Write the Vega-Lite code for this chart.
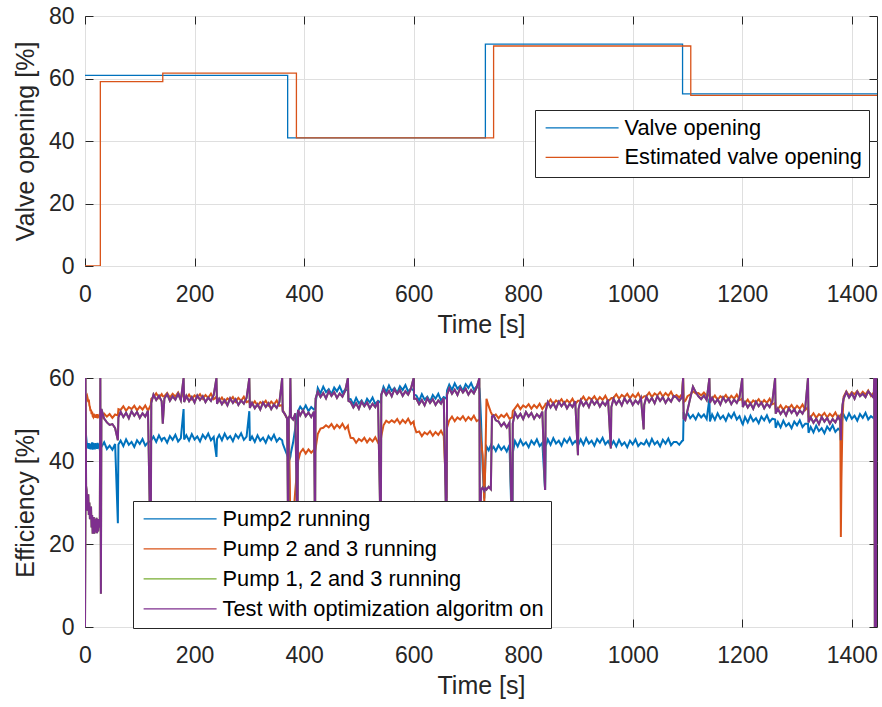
{
  "$schema": "https://vega.github.io/schema/vega-lite/v6.json",
  "background": "white",
  "padding": {"left": 12, "top": 4, "right": 4, "bottom": 4},
  "spacing": 28,
  "resolve": {"scale": {"color": "independent"}, "legend": {"color": "independent"}},
  "config": {
    "font": "Liberation Sans",
    "view": {"stroke": "#262626", "strokeWidth": 1},
    "axis": {
      "labelFont": "Liberation Sans", "labelFontSize": 23, "labelColor": "#262626",
      "titleFont": "Liberation Sans", "titleFontSize": 25, "titleFontWeight": "normal", "titleColor": "#262626",
      "gridColor": "#dfdfdf", "gridOpacity": 1, "gridWidth": 1, "domain": false,
      "tickColor": "#262626", "tickSize": -8, "tickWidth": 1,
      "labelFlush": false, "labelOverlap": false, "format": "d"
    },
    "axisX": {"labelPadding": 25, "titlePadding": 6},
    "axisY": {"labelPadding": 19, "titlePadding": 10},
    "legend": {
      "orient": "none", "title": null, "symbolType": "M-5,0H5", "symbolSize": 213,
      "symbolOffset": 29.2, "labelOffset": 31.5,
      "symbolStrokeWidth": 1.4, "labelFont": "Liberation Sans", "labelFontSize": 21.8,
      "labelColor": "#000000", "strokeColor": "#262626", "fillColor": "white",
      "padding": 7, "rowPadding": 6.5, "labelLimit": 600
    }
  },
  "vconcat": [
    {
      "width": 792, "height": 250,
      "layer": [
        {
          "data": {"values": [
            {"t": 0, "v": 61.0}, {"t": 370, "v": 41.0}, {"t": 731, "v": 71.0}, {"t": 1091, "v": 55.1}, {"t": 1446, "v": 55.1}
          ]},
          "mark": {"type": "line", "interpolate": "step-after", "strokeWidth": 1.3, "clip": true},
          "encoding": {
            "x": {"field": "t", "type": "quantitative", "scale": {"domain": [0, 1446], "nice": false, "zero": false},
                  "axis": {"values": [0, 200, 400, 600, 800, 1000, 1200, 1400], "title": "Time [s]"}},
            "y": {"field": "v", "type": "quantitative", "scale": {"domain": [0, 80], "nice": false},
                  "axis": {"values": [0, 20, 40, 60, 80], "title": "Valve opening [%]"}},
            "color": {"datum": "Valve opening", "type": "nominal",
                      "scale": {"domain": ["Valve opening", "Estimated valve opening"], "range": ["#0072BD", "#D95319"]},
                      "legend": {"legendX": 450, "legendY": 94}}
          }
        },
        {
          "data": {"values": [
            {"t": 0, "v": 0}, {"t": 28, "v": 59.0}, {"t": 142, "v": 61.7}, {"t": 386, "v": 41.0}, {"t": 746, "v": 70.4}, {"t": 1106, "v": 54.6}, {"t": 1446, "v": 54.6}
          ]},
          "mark": {"type": "line", "interpolate": "step-after", "strokeWidth": 1.3, "clip": true},
          "encoding": {
            "x": {"field": "t", "type": "quantitative", "axis": null},
            "y": {"field": "v", "type": "quantitative", "axis": null},
            "color": {"datum": "Estimated valve opening", "type": "nominal"}
          }
        },
        {
          "data": {"values": [{"t": 0, "v": 0}, {"t": 1446, "v": 80}]},
          "mark": {"type": "line", "opacity": 0},
          "encoding": {
            "x": {"field": "t", "type": "quantitative", "scale": {"domain": [0, 1446], "nice": false, "zero": false},
                  "axis": {"orient": "top", "values": [0, 200, 400, 600, 800, 1000, 1200, 1400], "labels": false, "grid": false, "title": null}},
            "y": {"field": "v", "type": "quantitative", "scale": {"domain": [0, 80], "nice": false},
                  "axis": {"orient": "right", "values": [0, 20, 40, 60, 80], "labels": false, "grid": false, "title": null}}
          }
        }
      ],
      "resolve": {"axis": {"x": "independent", "y": "independent"}}
    },
    {
      "width": 792, "height": 249,
      "data": {"values": [
        {"t":0,"b":0,"o":0,"p":0},
        {"t":1,"b":48.5,"o":56.0,"p":60},
        {"t":2,"b":46.0,"o":55.8,"p":34},
        {"t":3,"b":44.6,"o":55.2,"p":33.0},
        {"t":4,"b":43.2,"o":55.6,"p":28.0},
        {"t":5,"b":44.1,"o":55.0,"p":31.5},
        {"t":6,"b":43.0,"o":54.2,"p":32.0},
        {"t":7,"b":44.3,"o":54.8,"p":27.0},
        {"t":8,"b":42.9,"o":53.4,"p":30.0},
        {"t":9,"b":44.0,"o":53.0,"p":26.0},
        {"t":10,"b":42.8,"o":52.0,"p":28.3},
        {"t":11,"b":44.2,"o":52.4,"p":29.0},
        {"t":12,"b":43.1,"o":51.3,"p":24.0},
        {"t":13,"b":44.5,"o":51.9,"p":27.0},
        {"t":14,"b":42.7,"o":50.8,"p":22.5},
        {"t":15,"b":44.4,"o":50.6,"p":25.1},
        {"t":16,"b":43.0,"o":51.4,"p":26.5},
        {"t":17,"b":44.1,"o":50.5,"p":22.5},
        {"t":18,"b":42.8,"o":51.2,"p":26.0},
        {"t":19,"b":44.3,"o":50.4,"p":22.8},
        {"t":20,"b":43.1,"o":51.1,"p":23.4},
        {"t":21,"b":44.0,"o":50.6,"p":26.3},
        {"t":22,"b":42.9,"o":51.3,"p":22.6},
        {"t":23,"b":44.4,"o":50.3,"p":26.0},
        {"t":24,"b":43.0,"o":51.0,"p":23.0},
        {"t":25,"b":43.8,"o":50.5,"p":24.9},
        {"t":26,"b":44.2,"o":51.1,"p":26.0},
        {"t":27,"b":42.6,"o":51.3,"p":24.0},
        {"t":28,"b":44.2,"o":50.8,"p":60},
        {"t":29,"b":43.3,"o":50.6,"p":8},
        {"t":30,"b":43.4,"o":50.2,"p":52.5},
        {"t":35,"b":44.5,"o":51.4,"p":50.2},
        {"t":40,"b":42.9,"o":50.7,"p":49.3},
        {"t":45,"b":43.7,"o":51.3,"p":48.7},
        {"t":50,"b":42.7,"o":50.4,"p":48.9},
        {"t":55,"b":44.1,"o":51.2,"p":47.9},
        {"t":60,"b":25.0,"o":51.0,"p":45.0},
        {"t":61,"b":44.0,"o":52.5,"p":50.5},
        {"t":65,"b":44.9,"o":52.3,"p":51.9},
        {"t":70,"b":43.6,"o":53.2,"p":50.6},
        {"t":75,"b":45.2,"o":52.1,"p":51.6},
        {"t":80,"b":43.9,"o":53.0,"p":50.3},
        {"t":85,"b":44.6,"o":52.5,"p":52.0},
        {"t":90,"b":43.4,"o":53.3,"p":50.9},
        {"t":95,"b":45.0,"o":52.2,"p":51.8},
        {"t":100,"b":44.1,"o":53.1,"p":50.4},
        {"t":105,"b":45.3,"o":52.4,"p":51.5},
        {"t":110,"b":43.7,"o":53.4,"p":50.7},
        {"t":115,"b":44.5,"o":52.1,"p":52.1},
        {"t":120,"b":44.8,"o":53.5,"p":15},
        {"t":121,"b":45.0,"o":55.0,"p":54.0},
        {"t":125,"b":45.9,"o":55.4,"p":56.0},
        {"t":130,"b":44.6,"o":56.3,"p":54.7},
        {"t":135,"b":46.2,"o":55.2,"p":55.7},
        {"t":140,"b":44.9,"o":56.1,"p":54.4},
        {"t":142,"b":45.4,"o":55.6,"p":49.0},
        {"t":145,"b":45.6,"o":55.6,"p":55.1},
        {"t":150,"b":44.4,"o":56.4,"p":56.1},
        {"t":155,"b":46.0,"o":55.3,"p":54.5},
        {"t":160,"b":45.1,"o":56.2,"p":55.6},
        {"t":165,"b":46.3,"o":55.5,"p":54.8},
        {"t":170,"b":44.7,"o":56.5,"p":56.2},
        {"t":175,"b":45.5,"o":55.2,"p":54.6},
        {"t":180,"b":52.5,"o":56.5,"p":60},
        {"t":181,"b":45.2,"o":55.3,"p":54.2},
        {"t":185,"b":46.2,"o":55.1,"p":55.7},
        {"t":190,"b":44.9,"o":56.0,"p":54.4},
        {"t":195,"b":46.5,"o":54.9,"p":55.4},
        {"t":200,"b":45.2,"o":55.8,"p":54.1},
        {"t":205,"b":45.9,"o":55.3,"p":55.8},
        {"t":210,"b":44.7,"o":56.1,"p":54.7},
        {"t":215,"b":46.3,"o":55.0,"p":55.6},
        {"t":220,"b":45.4,"o":55.9,"p":54.2},
        {"t":225,"b":46.6,"o":55.2,"p":55.3},
        {"t":230,"b":45.0,"o":56.2,"p":54.5},
        {"t":235,"b":45.8,"o":54.9,"p":55.9},
        {"t":240,"b":41.0,"o":55.5,"p":60},
        {"t":241,"b":45.3,"o":54.6,"p":53.8},
        {"t":245,"b":46.3,"o":54.4,"p":55.0},
        {"t":250,"b":45.0,"o":55.3,"p":53.7},
        {"t":255,"b":46.6,"o":54.2,"p":54.7},
        {"t":260,"b":45.3,"o":55.1,"p":53.4},
        {"t":265,"b":46.0,"o":54.6,"p":55.1},
        {"t":270,"b":44.8,"o":55.4,"p":54.0},
        {"t":275,"b":46.4,"o":54.3,"p":54.9},
        {"t":280,"b":45.5,"o":55.2,"p":53.5},
        {"t":285,"b":46.7,"o":54.5,"p":54.6},
        {"t":290,"b":45.1,"o":55.5,"p":53.8},
        {"t":295,"b":45.9,"o":54.2,"p":55.2},
        {"t":300,"b":52.0,"o":54.5,"p":60},
        {"t":301,"b":44.9,"o":53.7,"p":52.8},
        {"t":305,"b":45.9,"o":53.5,"p":54.0},
        {"t":310,"b":44.6,"o":54.4,"p":52.7},
        {"t":315,"b":46.2,"o":53.3,"p":53.7},
        {"t":320,"b":44.9,"o":54.2,"p":52.4},
        {"t":325,"b":45.6,"o":53.7,"p":54.1},
        {"t":330,"b":44.4,"o":54.5,"p":53.0},
        {"t":335,"b":46.0,"o":53.4,"p":53.9},
        {"t":340,"b":45.1,"o":54.3,"p":52.5},
        {"t":345,"b":46.3,"o":53.6,"p":53.6},
        {"t":350,"b":44.7,"o":54.6,"p":52.8},
        {"t":355,"b":45.5,"o":53.3,"p":54.2},
        {"t":360,"b":45.0,"o":53.5,"p":60},
        {"t":361,"b":44.2,"o":52.3,"p":52.0},
        {"t":365,"b":42.8,"o":51.2,"p":51.3},
        {"t":369,"b":41.5,"o":50.3,"p":50.2},
        {"t":371,"b":41.9,"o":49.8,"p":20},
        {"t":372,"b":41.2,"o":48.5,"p":50.5},
        {"t":374,"b":40.6,"o":35.0,"p":51.0},
        {"t":375,"b":41.0,"o":20.0,"p":60},
        {"t":376,"b":42.0,"o":22.0,"p":50.6},
        {"t":380,"b":44.5,"o":26.0,"p":50.0},
        {"t":384,"b":48.0,"o":33.0,"p":51.5},
        {"t":388,"b":51.5,"o":39.0,"p":20},
        {"t":389,"b":52.0,"o":40.0,"p":52.3},
        {"t":393,"b":53.1,"o":42.0,"p":51.0},
        {"t":398,"b":52.2,"o":42.9,"p":52.2},
        {"t":403,"b":53.4,"o":41.8,"p":50.8},
        {"t":408,"b":52.0,"o":42.8,"p":51.7},
        {"t":413,"b":53.0,"o":42.0,"p":50.6},
        {"t":418,"b":52.4,"o":42.7,"p":51.9},
        {"t":420,"b":52.5,"o":42.3,"p":20},
        {"t":421,"b":54.0,"o":43.0,"p":55.0},
        {"t":425,"b":57.6,"o":46.5,"p":56.7},
        {"t":430,"b":56.3,"o":47.8,"p":55.4},
        {"t":435,"b":57.9,"o":48.0,"p":56.4},
        {"t":440,"b":56.6,"o":48.6,"p":55.1},
        {"t":445,"b":57.3,"o":48.1,"p":56.8},
        {"t":450,"b":56.1,"o":48.9,"p":55.7},
        {"t":455,"b":57.7,"o":47.8,"p":56.6},
        {"t":460,"b":56.8,"o":48.7,"p":55.2},
        {"t":465,"b":58.0,"o":48.0,"p":56.3},
        {"t":470,"b":56.4,"o":49.0,"p":55.5},
        {"t":475,"b":57.2,"o":47.7,"p":56.9},
        {"t":480,"b":57.0,"o":48.5,"p":60},
        {"t":481,"b":55.0,"o":47.5,"p":54.5},
        {"t":485,"b":54.9,"o":45.6,"p":54.2},
        {"t":490,"b":53.6,"o":45.5,"p":52.9},
        {"t":495,"b":55.2,"o":44.4,"p":53.9},
        {"t":500,"b":53.9,"o":45.3,"p":52.6},
        {"t":505,"b":54.6,"o":44.8,"p":54.3},
        {"t":510,"b":53.4,"o":45.6,"p":53.2},
        {"t":515,"b":55.0,"o":44.5,"p":54.1},
        {"t":520,"b":54.1,"o":45.4,"p":52.7},
        {"t":525,"b":55.3,"o":44.7,"p":53.8},
        {"t":530,"b":53.7,"o":45.7,"p":53.0},
        {"t":535,"b":54.5,"o":44.4,"p":54.4},
        {"t":540,"b":54.0,"o":45.0,"p":20},
        {"t":541,"b":56.0,"o":46.0,"p":56.0},
        {"t":545,"b":57.9,"o":48.6,"p":57.2},
        {"t":550,"b":56.6,"o":49.7,"p":55.9},
        {"t":555,"b":58.2,"o":49.2,"p":56.9},
        {"t":560,"b":56.9,"o":49.8,"p":55.6},
        {"t":565,"b":57.6,"o":49.3,"p":57.3},
        {"t":570,"b":56.4,"o":50.1,"p":56.2},
        {"t":575,"b":58.0,"o":49.0,"p":57.1},
        {"t":580,"b":57.1,"o":49.9,"p":55.7},
        {"t":585,"b":58.3,"o":49.2,"p":56.8},
        {"t":590,"b":56.7,"o":50.2,"p":56.0},
        {"t":595,"b":57.5,"o":48.9,"p":57.4},
        {"t":600,"b":57.0,"o":49.5,"p":60},
        {"t":601,"b":56.0,"o":48.5,"p":55.0},
        {"t":605,"b":55.8,"o":46.9,"p":55.0},
        {"t":610,"b":54.5,"o":47.1,"p":53.7},
        {"t":615,"b":56.1,"o":46.0,"p":54.7},
        {"t":620,"b":54.8,"o":46.9,"p":53.4},
        {"t":625,"b":55.5,"o":46.4,"p":55.1},
        {"t":630,"b":54.3,"o":47.2,"p":54.0},
        {"t":635,"b":55.9,"o":46.1,"p":54.9},
        {"t":640,"b":55.0,"o":47.0,"p":53.5},
        {"t":645,"b":56.2,"o":46.3,"p":54.6},
        {"t":650,"b":54.6,"o":47.3,"p":53.8},
        {"t":655,"b":55.4,"o":46.0,"p":55.2},
        {"t":660,"b":55.0,"o":31.0,"p":20},
        {"t":661,"b":57.0,"o":48.0,"p":56.0},
        {"t":665,"b":58.4,"o":49.8,"p":57.5},
        {"t":670,"b":57.1,"o":50.7,"p":56.2},
        {"t":675,"b":58.7,"o":49.6,"p":57.2},
        {"t":680,"b":57.4,"o":50.5,"p":55.9},
        {"t":685,"b":58.1,"o":50.0,"p":57.6},
        {"t":690,"b":56.9,"o":50.8,"p":56.5},
        {"t":695,"b":58.5,"o":49.7,"p":57.4},
        {"t":700,"b":57.6,"o":50.6,"p":56.0},
        {"t":705,"b":58.8,"o":49.9,"p":57.1},
        {"t":710,"b":57.2,"o":50.9,"p":56.3},
        {"t":715,"b":58.0,"o":49.6,"p":57.7},
        {"t":720,"b":57.5,"o":50.0,"p":60},
        {"t":721,"b":56.0,"o":49.5,"p":20},
        {"t":723,"b":50.0,"o":45.0,"p":33.0},
        {"t":726,"b":38.0,"o":41.4,"p":33.6},
        {"t":729,"b":31.0,"o":30.0,"p":32.8},
        {"t":731,"b":40.0,"o":40.0,"p":33.5},
        {"t":733,"b":43.5,"o":55.0,"p":33.1},
        {"t":737,"b":42.6,"o":53.2,"p":33.8},
        {"t":741,"b":43.8,"o":51.8,"p":33.2},
        {"t":743,"b":42.9,"o":51.2,"p":50.7},
        {"t":746,"b":43.4,"o":50.8,"p":51.0},
        {"t":750,"b":42.4,"o":51.2,"p":49.8},
        {"t":755,"b":43.8,"o":50.3,"p":49.5},
        {"t":760,"b":42.7,"o":51.1,"p":48.4},
        {"t":765,"b":43.5,"o":50.6,"p":49.2},
        {"t":770,"b":42.3,"o":51.4,"p":48.1},
        {"t":775,"b":43.9,"o":50.2,"p":49.3},
        {"t":780,"b":20.0,"o":50.5,"p":20},
        {"t":781,"b":42.0,"o":52.0,"p":49.0},
        {"t":785,"b":44.8,"o":52.7,"p":51.7},
        {"t":790,"b":43.5,"o":53.6,"p":50.4},
        {"t":795,"b":45.1,"o":52.5,"p":51.4},
        {"t":800,"b":43.8,"o":53.4,"p":50.1},
        {"t":805,"b":44.5,"o":52.9,"p":51.8},
        {"t":810,"b":43.3,"o":53.7,"p":50.7},
        {"t":815,"b":44.9,"o":52.6,"p":51.6},
        {"t":820,"b":44.0,"o":53.5,"p":50.2},
        {"t":825,"b":45.2,"o":52.8,"p":51.3},
        {"t":830,"b":43.6,"o":53.8,"p":50.5},
        {"t":835,"b":44.4,"o":52.5,"p":51.9},
        {"t":840,"b":33.0,"o":53.5,"p":33.0},
        {"t":841,"b":43.5,"o":53.8,"p":52.0},
        {"t":845,"b":45.2,"o":53.9,"p":54.2},
        {"t":850,"b":43.9,"o":54.8,"p":52.9},
        {"t":855,"b":45.5,"o":53.7,"p":53.9},
        {"t":860,"b":44.2,"o":54.6,"p":52.6},
        {"t":865,"b":44.9,"o":54.1,"p":54.3},
        {"t":870,"b":43.7,"o":54.9,"p":53.2},
        {"t":875,"b":45.3,"o":53.8,"p":54.1},
        {"t":880,"b":44.4,"o":54.7,"p":52.7},
        {"t":885,"b":45.6,"o":54.0,"p":53.8},
        {"t":890,"b":44.0,"o":55.0,"p":53.0},
        {"t":895,"b":44.8,"o":53.7,"p":54.4},
        {"t":900,"b":44.0,"o":54.5,"p":41.4},
        {"t":901,"b":44.0,"o":54.5,"p":52.5},
        {"t":905,"b":45.2,"o":54.6,"p":54.6},
        {"t":910,"b":43.9,"o":55.5,"p":53.3},
        {"t":915,"b":45.5,"o":54.4,"p":54.3},
        {"t":920,"b":44.2,"o":55.3,"p":53.0},
        {"t":925,"b":44.9,"o":54.8,"p":54.7},
        {"t":930,"b":43.7,"o":55.6,"p":53.6},
        {"t":935,"b":45.3,"o":54.5,"p":54.5},
        {"t":940,"b":44.4,"o":55.4,"p":53.1},
        {"t":945,"b":45.6,"o":54.7,"p":54.2},
        {"t":950,"b":44.0,"o":55.7,"p":53.4},
        {"t":955,"b":44.8,"o":54.4,"p":54.8},
        {"t":960,"b":43.5,"o":55.0,"p":43.0},
        {"t":961,"b":43.8,"o":55.2,"p":53.0},
        {"t":965,"b":44.8,"o":55.2,"p":55.0},
        {"t":970,"b":43.5,"o":56.1,"p":53.7},
        {"t":975,"b":45.1,"o":55.0,"p":54.7},
        {"t":980,"b":43.8,"o":55.9,"p":53.4},
        {"t":985,"b":44.5,"o":55.4,"p":55.1},
        {"t":990,"b":43.3,"o":56.2,"p":54.0},
        {"t":995,"b":44.9,"o":55.1,"p":54.9},
        {"t":1000,"b":44.0,"o":56.0,"p":53.5},
        {"t":1005,"b":45.2,"o":55.3,"p":54.6},
        {"t":1010,"b":43.6,"o":56.3,"p":53.8},
        {"t":1015,"b":44.4,"o":55.0,"p":55.2},
        {"t":1020,"b":44.0,"o":55.5,"p":47.6},
        {"t":1021,"b":44.0,"o":55.6,"p":53.5},
        {"t":1025,"b":45.0,"o":55.6,"p":55.5},
        {"t":1030,"b":43.7,"o":56.5,"p":54.2},
        {"t":1035,"b":45.3,"o":55.4,"p":55.2},
        {"t":1040,"b":44.0,"o":56.3,"p":53.9},
        {"t":1045,"b":44.7,"o":55.8,"p":55.6},
        {"t":1050,"b":43.5,"o":56.6,"p":54.5},
        {"t":1055,"b":45.1,"o":55.5,"p":55.4},
        {"t":1060,"b":44.2,"o":56.4,"p":54.0},
        {"t":1065,"b":45.4,"o":55.7,"p":55.1},
        {"t":1070,"b":43.8,"o":56.7,"p":54.3},
        {"t":1075,"b":44.6,"o":55.4,"p":55.7},
        {"t":1080,"b":44.6,"o":55.9,"p":55.3},
        {"t":1085,"b":43.9,"o":55.3,"p":54.5},
        {"t":1090,"b":44.8,"o":56.1,"p":55.4},
        {"t":1092,"b":45.0,"o":60,"p":60},
        {"t":1093,"b":51.8,"o":54.2,"p":50.3},
        {"t":1096,"b":50.4,"o":54.5,"p":49.9},
        {"t":1100,"b":51.6,"o":55.6,"p":52.2},
        {"t":1105,"b":50.3,"o":56.0,"p":55.1},
        {"t":1110,"b":51.1,"o":56.8,"p":57.9},
        {"t":1115,"b":50.0,"o":56.3,"p":56.6},
        {"t":1120,"b":51.4,"o":56.4,"p":55.6},
        {"t":1125,"b":50.5,"o":55.8,"p":54.9},
        {"t":1130,"b":51.2,"o":56.5,"p":55.8},
        {"t":1135,"b":50.1,"o":55.7,"p":54.7},
        {"t":1140,"b":55.0,"o":56.0,"p":60},
        {"t":1141,"b":49.5,"o":55.0,"p":54.0},
        {"t":1145,"b":51.2,"o":54.9,"p":55.2},
        {"t":1150,"b":49.9,"o":55.8,"p":53.9},
        {"t":1155,"b":51.5,"o":54.7,"p":54.9},
        {"t":1160,"b":50.2,"o":55.6,"p":53.6},
        {"t":1165,"b":50.9,"o":55.1,"p":55.3},
        {"t":1170,"b":49.7,"o":55.9,"p":54.2},
        {"t":1175,"b":51.3,"o":54.8,"p":55.1},
        {"t":1180,"b":50.4,"o":55.7,"p":53.7},
        {"t":1185,"b":51.6,"o":55.0,"p":54.8},
        {"t":1190,"b":50.0,"o":56.0,"p":54.0},
        {"t":1195,"b":50.8,"o":54.7,"p":55.4},
        {"t":1200,"b":49.0,"o":55.0,"p":60},
        {"t":1201,"b":48.8,"o":54.0,"p":53.0},
        {"t":1205,"b":50.6,"o":53.9,"p":54.2},
        {"t":1210,"b":49.3,"o":54.8,"p":52.9},
        {"t":1215,"b":50.9,"o":53.7,"p":53.9},
        {"t":1220,"b":49.6,"o":54.6,"p":52.6},
        {"t":1225,"b":50.3,"o":54.1,"p":54.3},
        {"t":1230,"b":49.1,"o":54.9,"p":53.2},
        {"t":1235,"b":50.7,"o":53.8,"p":54.1},
        {"t":1240,"b":49.8,"o":54.7,"p":52.7},
        {"t":1245,"b":51.0,"o":54.0,"p":53.8},
        {"t":1250,"b":49.4,"o":55.0,"p":53.0},
        {"t":1255,"b":50.2,"o":53.7,"p":54.4},
        {"t":1260,"b":50.0,"o":54.0,"p":60},
        {"t":1261,"b":48.0,"o":52.6,"p":51.4},
        {"t":1265,"b":49.4,"o":52.5,"p":52.6},
        {"t":1270,"b":48.1,"o":53.4,"p":51.3},
        {"t":1275,"b":49.7,"o":52.3,"p":52.3},
        {"t":1280,"b":48.4,"o":53.2,"p":51.0},
        {"t":1285,"b":49.1,"o":52.7,"p":52.7},
        {"t":1290,"b":47.9,"o":53.5,"p":51.6},
        {"t":1295,"b":49.5,"o":52.4,"p":52.5},
        {"t":1300,"b":48.6,"o":53.3,"p":51.1},
        {"t":1305,"b":49.8,"o":52.6,"p":52.2},
        {"t":1310,"b":48.2,"o":53.6,"p":51.4},
        {"t":1315,"b":49.0,"o":52.3,"p":52.8},
        {"t":1320,"b":49.0,"o":53.0,"p":60},
        {"t":1321,"b":46.8,"o":50.7,"p":49.3},
        {"t":1325,"b":48.2,"o":50.6,"p":50.5},
        {"t":1330,"b":46.9,"o":51.5,"p":49.2},
        {"t":1335,"b":48.5,"o":50.4,"p":50.2},
        {"t":1340,"b":47.2,"o":51.3,"p":48.9},
        {"t":1345,"b":47.9,"o":50.8,"p":50.6},
        {"t":1350,"b":46.7,"o":51.6,"p":49.5},
        {"t":1355,"b":48.3,"o":50.5,"p":50.4},
        {"t":1360,"b":47.4,"o":51.4,"p":49.0},
        {"t":1365,"b":48.6,"o":50.7,"p":50.1},
        {"t":1370,"b":47.0,"o":51.7,"p":49.3},
        {"t":1375,"b":47.8,"o":50.4,"p":50.7},
        {"t":1379,"b":47.3,"o":51.0,"p":49.6},
        {"t":1380,"b":45.0,"o":21.7,"p":45.0},
        {"t":1381,"b":48.0,"o":35.0,"p":50.0},
        {"t":1383,"b":50.8,"o":50.0,"p":53.5},
        {"t":1385,"b":51.2,"o":55.5,"p":55.0},
        {"t":1390,"b":49.9,"o":56.8,"p":56.6},
        {"t":1395,"b":51.5,"o":55.7,"p":55.3},
        {"t":1400,"b":50.2,"o":56.6,"p":56.3},
        {"t":1405,"b":50.9,"o":56.1,"p":55.0},
        {"t":1410,"b":49.7,"o":56.9,"p":56.7},
        {"t":1415,"b":51.3,"o":55.8,"p":55.6},
        {"t":1420,"b":50.4,"o":56.7,"p":56.2},
        {"t":1425,"b":51.6,"o":56.0,"p":55.4},
        {"t":1430,"b":50.0,"o":57.0,"p":56.8},
        {"t":1435,"b":50.8,"o":55.7,"p":56.0},
        {"t":1440,"b":50.3,"o":56.5,"p":55.2},
        {"t":1441,"b":51.0,"o":56.0,"p":60},
        {"t":1442,"b":55.0,"o":56.3,"p":0},
        {"t":1443,"b":52.0,"o":56.0,"p":60},
        {"t":1444,"b":51.0,"o":56.0,"p":0},
        {"t":1445,"b":50.8,"o":56.2,"p":60},
        {"t":1446,"b":50.6,"o":56.1,"p":0}
      ]},
      "layer": [
        {
          "mark": {"type": "line", "strokeWidth": 2, "clip": true},
          "encoding": {
            "x": {"field": "t", "type": "quantitative", "scale": {"domain": [0, 1446], "nice": false, "zero": false},
                  "axis": {"values": [0, 200, 400, 600, 800, 1000, 1200, 1400], "title": "Time [s]"}},
            "y": {"field": "b", "type": "quantitative", "scale": {"domain": [0, 60], "nice": false},
                  "axis": {"values": [0, 20, 40, 60], "title": "Efficiency [%]"}},
            "color": {"datum": "Pump2 running", "type": "nominal",
                      "scale": {"domain": ["Pump2 running", "Pump 2 and 3 running", "Pump 1, 2 and 3 running", "Test with optimization algoritm on"],
                                "range": ["#0072BD", "#D95319", "#77AC30", "#7E2F8E"]},
                      "legend": {"legendX": 48, "legendY": 123, "rowPadding": 7}}
          }
        },
        {
          "mark": {"type": "line", "strokeWidth": 2, "clip": true},
          "encoding": {
            "x": {"field": "t", "type": "quantitative", "axis": null},
            "y": {"field": "o", "type": "quantitative", "axis": null},
            "color": {"datum": "Pump 2 and 3 running", "type": "nominal"}
          }
        },
        {
          "mark": {"type": "line", "strokeWidth": 2, "clip": true},
          "encoding": {
            "x": {"field": "t", "type": "quantitative", "axis": null},
            "y": {"field": "p", "type": "quantitative", "axis": null},
            "color": {"datum": "Pump 1, 2 and 3 running", "type": "nominal"}
          }
        },
        {
          "mark": {"type": "line", "strokeWidth": 2, "clip": true},
          "encoding": {
            "x": {"field": "t", "type": "quantitative", "axis": null},
            "y": {"field": "p", "type": "quantitative", "axis": null},
            "color": {"datum": "Test with optimization algoritm on", "type": "nominal"}
          }
        },
        {
          "mark": {"type": "line", "opacity": 0},
          "encoding": {
            "x": {"field": "t", "type": "quantitative", "scale": {"domain": [0, 1446], "nice": false, "zero": false},
                  "axis": {"orient": "top", "values": [0, 200, 400, 600, 800, 1000, 1200, 1400], "labels": false, "grid": false, "title": null}},
            "y": {"field": "b", "type": "quantitative", "scale": {"domain": [0, 60], "nice": false},
                  "axis": {"orient": "right", "values": [0, 20, 40, 60], "labels": false, "grid": false, "title": null}}
          }
        }
      ],
      "resolve": {"axis": {"x": "independent", "y": "independent"}}
    }
  ]
}
